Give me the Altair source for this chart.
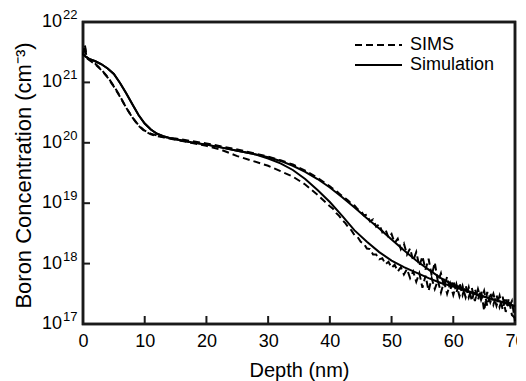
import altair as alt
import pandas as pd

FONT = "Liberation Sans"

# ---------------- data (log10 of boron concentration, cm^-3) ----------------
# Simulation curves (solid)
sim_depth = [0, 0.5, 1, 2, 3, 4, 5, 6, 7, 8, 9, 10, 11, 12, 13, 14, 15, 17.5, 20, 22.5,
             25, 27.5, 30, 32, 34, 36, 38, 40, 42, 44, 46, 48, 50, 52, 54, 56, 58,
             60, 62, 64, 66, 68, 70]
sim_a_log = [21.47, 21.42, 21.39, 21.35, 21.30, 21.23, 21.14, 20.99, 20.82, 20.64, 20.46,
             20.32, 20.22, 20.15, 20.11, 20.08, 20.06, 20.01, 19.97, 19.92, 19.87, 19.82,
             19.74, 19.66, 19.55, 19.40, 19.22, 19.02, 18.79, 18.55, 18.36, 18.19, 18.05,
             17.94, 17.85, 17.76, 17.68, 17.62, 17.55, 17.48, 17.42, 17.36, 17.29]
sim_b_log = [21.47, 21.42, 21.39, 21.35, 21.30, 21.23, 21.14, 20.99, 20.82, 20.64, 20.46,
             20.32, 20.22, 20.15, 20.11, 20.08, 20.06, 20.01, 19.97, 19.92, 19.87, 19.82,
             19.76, 19.70, 19.62, 19.52, 19.40, 19.26, 19.10, 18.93, 18.75, 18.58, 18.40,
             18.22, 18.05, 17.90, 17.76, 17.65, 17.56, 17.49, 17.42, 17.36, 17.30]

# SIMS measurements (dashed)
sims_depth = [0, 0.3, 0.6, 1, 2, 3, 4, 5, 6, 7, 8, 9, 10, 11, 12, 13, 14, 15, 17.5, 20,
              22.5, 25, 27.5, 30, 32, 34, 36, 38, 40,
              40.5, 41.0, 41.5, 42.0, 42.5, 43.0, 43.5, 44.0, 44.5, 45.0, 45.5, 46.0,
              46.5, 47.0, 47.5, 48.0, 48.5, 49.0, 49.5, 50.0, 50.5, 51.0, 51.5, 52.0,
              52.5, 53.0, 53.5, 54.0, 54.5, 55.0, 55.5, 56.0, 56.5, 57.0, 57.5, 58.0,
              58.5, 59.0, 59.5, 60.0, 60.5, 61.0, 61.5, 62.0, 62.5, 63.0, 63.5, 64.0,
              64.5, 65.0, 65.5, 66.0, 66.5, 67.0, 67.5, 68.0, 68.5, 69.0, 69.5, 70.0]
sims_a_log = [21.45, 21.62, 21.42, 21.38, 21.31, 21.21, 21.09, 20.94, 20.77, 20.58, 20.42,
              20.28, 20.19, 20.14, 20.11, 20.09, 20.07, 20.05, 20.00, 19.95, 19.88, 19.78,
              19.70, 19.62, 19.53, 19.44, 19.31, 19.14, 18.95,
              18.91, 18.84, 18.79, 18.72, 18.67, 18.60, 18.55, 18.47, 18.44, 18.36, 18.33,
              18.25, 18.24, 18.15, 18.15, 18.07, 18.09, 17.99, 18.03, 17.93, 17.98, 17.87,
              17.94, 17.82, 17.91, 17.76, 17.87, 17.70, 17.84, 17.60, 17.80, 17.55, 17.76,
              17.58, 17.72, 17.52, 17.70, 17.50, 17.67, 17.48, 17.66, 17.46, 17.63, 17.44,
              17.61, 17.38, 17.58, 17.40, 17.56, 17.22, 17.53, 17.36, 17.50, 17.30, 17.47,
              17.24, 17.44, 17.26, 17.38, 17.05]
sims_b_log = [21.45, 21.60, 21.40, 21.37, 21.30, 21.20, 21.08, 20.93, 20.76, 20.58, 20.42,
              20.29, 20.20, 20.15, 20.12, 20.10, 20.08, 20.07, 20.03, 19.99, 19.94, 19.89,
              19.83, 19.77, 19.71, 19.64, 19.54, 19.42, 19.28,
              19.24, 19.21, 19.16, 19.12, 19.08, 19.04, 18.99, 18.96, 18.90, 18.88, 18.80,
              18.81, 18.70, 18.73, 18.61, 18.65, 18.52, 18.57, 18.43, 18.49, 18.34, 18.41,
              18.24, 18.33, 18.15, 18.25, 18.05, 18.19, 17.96, 18.12, 17.90, 18.08, 17.80,
              18.02, 17.70, 17.84, 17.62, 17.78, 17.56, 17.72, 17.52, 17.68, 17.48, 17.64,
              17.44, 17.60, 17.38, 17.58, 17.40, 17.55, 17.30, 17.52, 17.32, 17.48, 17.28,
              17.45, 17.20, 17.42, 17.15, 17.10]

legend_labels = ["SIMS", "Simulation"]
x_tick_values = [0, 10, 20, 30, 40, 50, 60, 70]
x_inner_ticks = [10, 20, 30, 40, 50, 60]
y_exponents = [17, 18, 19, 20, 21, 22]
y_inner_exponents = [18, 19, 20, 21]

# ---------------- tables ----------------
def series_df(depths, logs):
    return pd.DataFrame({"depth": depths, "conc": [10 ** v for v in logs]})

sims_a_df = series_df(sims_depth, sims_a_log)
sims_b_df = series_df(sims_depth, sims_b_log)
sim_a_df = series_df(sim_depth, sim_a_log)
sim_b_df = series_df(sim_depth, sim_b_log)

xticks_df = pd.DataFrame({"depth": x_inner_ticks})
yticks_df = pd.DataFrame({"conc": [10.0 ** e for e in y_inner_exponents]})
ylab_df = pd.DataFrame({"conc": [10.0 ** e for e in y_exponents],
                        "base": ["10"] * len(y_exponents),
                        "exp": [str(e) for e in y_exponents]})
box_df = pd.DataFrame({"frame": [1]})
leg_sims_df = pd.DataFrame({"label": [legend_labels[0]]})
leg_sim_df = pd.DataFrame({"label": [legend_labels[1]]})

x_scale = alt.Scale(domain=[0, 70], nice=False, zero=False)
y_scale = alt.Scale(type="log", domain=[1e17, 1e22], nice=False)

x_enc = alt.X("depth:Q", scale=x_scale,
              axis=alt.Axis(values=x_tick_values, title="Depth (nm)", ticks=False,
                            domain=False, grid=False, labelFontSize=18, labelFont=FONT,
                            labelPadding=8, labelFlush=False,
                            titleFont=FONT, titleFontSize=20, titleFontWeight="normal",
                            titleY=52, titleBaseline="alphabetic"))
y_enc = alt.Y("conc:Q", scale=y_scale,
              axis=alt.Axis(labels=False, ticks=False, domain=False, grid=False,
                            title="Boron Concentration (cm\u207b\u00b3)",
                            titleFont=FONT, titleFontSize=22, titleFontWeight="normal",
                            titleAngle=270, titleX=-60, titleY=153,
                            titleAlign="center", titleBaseline="middle"))
x_plain = alt.X("depth:Q", scale=x_scale)
y_plain = alt.Y("conc:Q", scale=y_scale)

sims_a_line = alt.Chart(sims_a_df).mark_line(strokeWidth=2, color="black", strokeDash=[7, 4]).encode(
    x=x_enc, y=y_enc)
sims_b_line = alt.Chart(sims_b_df).mark_line(strokeWidth=2, color="black", strokeDash=[7, 4]).encode(
    x=x_plain, y=y_plain)
sim_a_line = alt.Chart(sim_a_df).mark_line(strokeWidth=2, color="black").encode(x=x_plain, y=y_plain)
sim_b_line = alt.Chart(sim_b_df).mark_line(strokeWidth=2, color="black").encode(x=x_plain, y=y_plain)

frame = alt.Chart(box_df).mark_rect(fill=None, stroke="#1a1a1a", strokeWidth=2.5).encode(
    x=alt.value(0), x2=alt.value(432), y=alt.value(0), y2=alt.value(302))
xticks = alt.Chart(xticks_df).mark_rule(color="#1a1a1a", strokeWidth=2).encode(
    x=x_plain, y=alt.value(302), y2=alt.value(294))
yticks = alt.Chart(yticks_df).mark_rule(color="#1a1a1a", strokeWidth=2).encode(
    y=y_plain, x=alt.value(0), x2=alt.value(7))
ybase = alt.Chart(ylab_df).mark_text(align="right", baseline="middle", font=FONT,
                                     fontSize=18).encode(
    y=y_plain, x=alt.value(-21), text="base:N")
yexp = alt.Chart(ylab_df).mark_text(align="left", baseline="middle", font=FONT,
                                    fontSize=13, dy=-7).encode(
    y=y_plain, x=alt.value(-20), text="exp:N")

# hand-built legend (top right, inside the frame)
leg_sims_line = alt.Chart(leg_sims_df).mark_rule(color="black", strokeWidth=2, strokeDash=[7, 4]).encode(
    x=alt.value(272), x2=alt.value(319), y=alt.value(23))
leg_sim_line = alt.Chart(leg_sim_df).mark_rule(color="black", strokeWidth=2).encode(
    x=alt.value(272), x2=alt.value(319), y=alt.value(43))
leg_sims_text = alt.Chart(leg_sims_df).mark_text(align="left", baseline="middle", font=FONT,
                                                 fontSize=18).encode(
    x=alt.value(327), y=alt.value(23), text="label:N")
leg_sim_text = alt.Chart(leg_sim_df).mark_text(align="left", baseline="middle", font=FONT,
                                               fontSize=18).encode(
    x=alt.value(327), y=alt.value(43), text="label:N")

chart = alt.layer(
    frame, xticks, yticks,
    sims_a_line, sims_b_line, sim_a_line, sim_b_line,
    ybase, yexp,
    leg_sims_line, leg_sim_line, leg_sims_text, leg_sim_text,
).properties(
    width=432, height=302,
    autosize=alt.AutoSizeParams(type="none"),
    padding={"left": 75, "top": 14, "right": 2, "bottom": 57},
).configure(
    background="white",
    view=alt.ViewConfig(stroke="#1a1a1a", strokeWidth=2.5),
)

chart.save("out.html", embed_options={"renderer": "svg", "actions": False})
